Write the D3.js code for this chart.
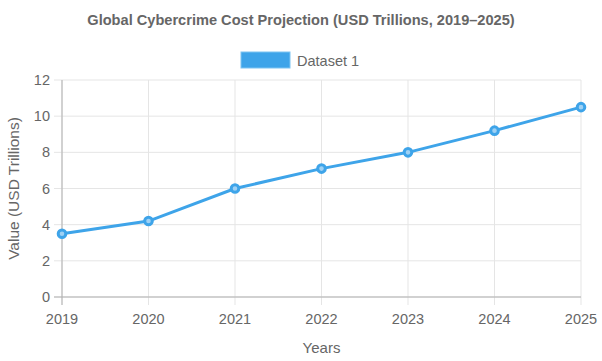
<!DOCTYPE html>
<html>
<head>
<meta charset="utf-8">
<script src="https://cdn.jsdelivr.net/npm/d3@7"></script>
<style>
  body { margin: 0; background: #fff; }
  svg text { font-family: 'Liberation Sans', Arial, sans-serif; }
</style>
</head>
<body>
<div id="container"></div>
<script>
const years = ['2019', '2020', '2021', '2022', '2023', '2024', '2025'];
const values = [3.5, 4.2, 6.0, 7.1, 8.0, 9.2, 10.5];
const yTicks = [0, 2, 4, 6, 8, 10, 12];

const width = 602, height = 361;
const margin = { left: 62, right: 21, top: 80, bottom: 64 };
const blue = '#3ea4e9';

const svg = d3.select('#container')
    .append('svg')
    .attr('width', width)
    .attr('height', height);

const x = d3.scalePoint()
    .domain(years)
    .range([margin.left, width - margin.right]);

const y = d3.scaleLinear()
    .domain([0, 12])
    .range([height - margin.bottom, margin.top]);

// title
svg.append('text')
    .attr('x', width / 2)
    .attr('y', 25)
    .attr('text-anchor', 'middle')
    .style('font-size', '14.6px')
    .style('font-weight', 'bold')
    .style('fill', '#666')
    .text('Global Cybercrime Cost Projection (USD Trillions, 2019\u20132025)');

// legend
svg.append('rect')
    .attr('x', 241).attr('y', 52)
    .attr('width', 49).attr('height', 16)
    .attr('fill', blue)
    .attr('stroke', '#7cc4f2')
    .attr('stroke-width', 1);
svg.append('text')
    .attr('x', 297).attr('y', 66)
    .style('font-size', '14.5px')
    .style('fill', '#666')
    .text('Dataset 1');

// grid
svg.append('g')
    .selectAll('line')
    .data(yTicks)
    .join('line')
    .attr('x1', margin.left - 8).attr('x2', width - margin.right)
    .attr('y1', d => y(d)).attr('y2', d => y(d))
    .attr('stroke', '#e5e5e5');
svg.append('g')
    .selectAll('line')
    .data(years)
    .join('line')
    .attr('x1', d => x(d)).attr('x2', d => x(d))
    .attr('y1', margin.top).attr('y2', height - margin.bottom + 8)
    .attr('stroke', '#e5e5e5');

// axis lines
svg.append('line')
    .attr('x1', margin.left).attr('x2', margin.left)
    .attr('y1', margin.top).attr('y2', height - margin.bottom + 8)
    .attr('stroke', '#b0b0b0');
svg.append('line')
    .attr('x1', margin.left - 8).attr('x2', width - margin.right)
    .attr('y1', y(0)).attr('y2', y(0))
    .attr('stroke', '#b0b0b0');

// tick labels
svg.append('g')
    .selectAll('text')
    .data(yTicks)
    .join('text')
    .attr('x', margin.left - 12)
    .attr('y', d => y(d))
    .attr('dy', '0.35em')
    .attr('text-anchor', 'end')
    .style('font-size', '14.5px')
    .style('fill', '#666')
    .text(d => d);
svg.append('g')
    .selectAll('text')
    .data(years)
    .join('text')
    .attr('x', d => x(d))
    .attr('y', height - margin.bottom + 27)
    .attr('text-anchor', 'middle')
    .style('font-size', '14.5px')
    .style('fill', '#666')
    .text(d => d);

// axis titles
svg.append('text')
    .attr('x', (margin.left + width - margin.right) / 2)
    .attr('y', 353)
    .attr('text-anchor', 'middle')
    .style('font-size', '15px')
    .style('fill', '#666')
    .text('Years');
svg.append('text')
    .attr('transform', `translate(19, ${(margin.top + height - margin.bottom) / 2}) rotate(-90)`)
    .attr('text-anchor', 'middle')
    .style('font-size', '15.5px')
    .style('fill', '#666')
    .text('Value (USD Trillions)');

// line
const line = d3.line()
    .x((d, i) => x(years[i]))
    .y(d => y(d));
svg.append('path')
    .datum(values)
    .attr('d', line)
    .attr('fill', 'none')
    .attr('stroke', blue)
    .attr('stroke-width', 3);

svg.append('g')
    .selectAll('circle')
    .data(values)
    .join('circle')
    .attr('cx', (d, i) => x(years[i]))
    .attr('cy', d => y(d))
    .attr('r', 3.8)
    .attr('fill', '#9fd1f4')
    .attr('stroke', blue)
    .attr('stroke-width', 3);
</script>
</body>
</html>
